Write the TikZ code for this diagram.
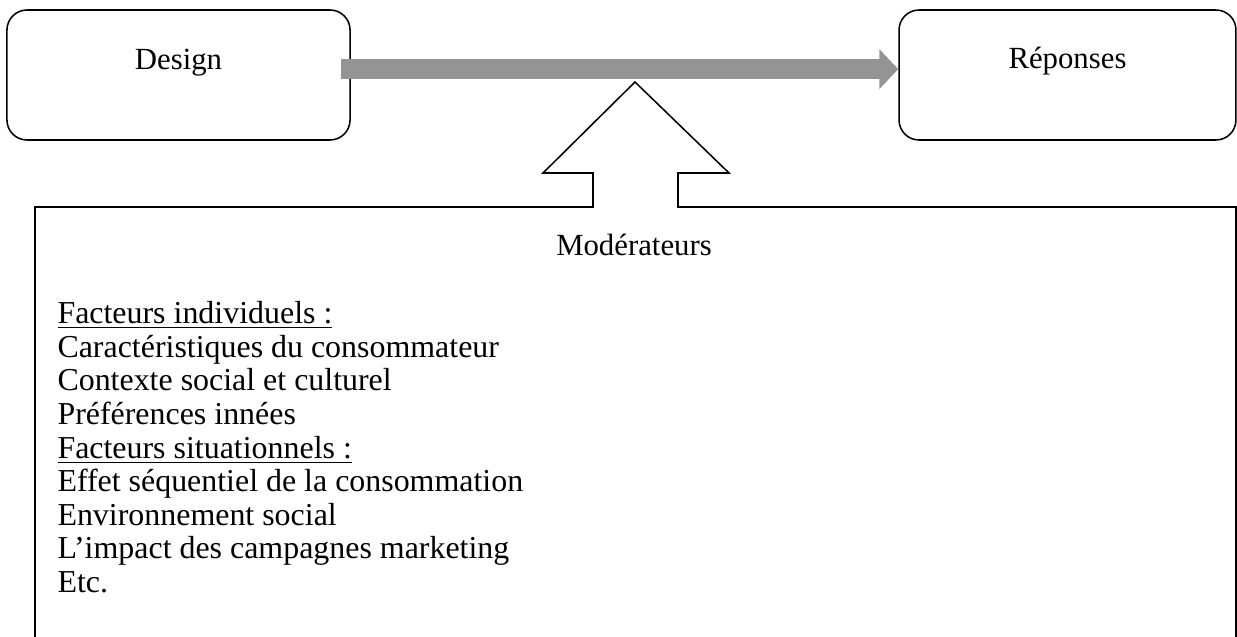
\documentclass[tikz,border=0pt]{standalone}
\usepackage{fontspec}
\setmainfont{Liberation Serif}
\usepackage{tikz}
\usetikzlibrary{arrows.meta}
\usetikzlibrary{positioning}

\begin{document}
\begin{tikzpicture}
		[
		x=0.39pt, y=-0.39pt,
		font=\fontsize{12}{13.1}\selectfont
		]
		
		% Styles: rounded boxes and the grey flow arrow
		\tikzstyle{end box}=[draw,line width=0.6pt,rounded corners=7.8pt,minimum height=50.7pt,inner sep=0];
		\tikzstyle{flow}=[line width=7.8pt,draw=black!42,-{Triangle[length=7.4pt,width=15.2pt]}];
		\tikzstyle{outline}=[draw,line width=0.6pt,line join=miter];
		
		\useasboundingbox (0,0) rectangle (1237,637);
		
		% The two end boxes
		\node(design)[end box,minimum width=133.8pt]at(178.5,75){};
		\node(reponses)[end box,minimum width=131.4pt]at(1067.5,75){};
		\node(designtext)[yshift=5pt]at(design){Design};
		\node(reponsestext)[yshift=5.6pt]at(reponses){Réponses};
		
		% Grey arrow between them
		\draw[flow]([xshift=-3.9pt,yshift=2.3pt]design.east)--([yshift=2.3pt]reponses.west);
		
		% Moderators box with the hollow arrow
		\path[outline](35,637)--(35,207)--(593,207)--(593,173)--(543,173)--(635,82)
			--(729,173)--(678,173)--(678,207)--(1236,207)--(1236,637);
		\node(moder)at(634,245){Modérateurs};
		
		% List of factors
		\node(factors)[anchor=north west,align=left,inner sep=0,
			font=\fontsize{12.45}{13.1}\selectfont]at(57,301){%
			\underline{Facteurs individuels :}\\
			Caractéristiques du consommateur\\
			Contexte social et culturel\\
			Préférences innées\\
			\underline{Facteurs situationnels :}\\
			Effet séquentiel de la consommation\\
			Environnement social\\
			L’impact des campagnes marketing\\
			Etc.};
		\end{tikzpicture}
\end{document}
